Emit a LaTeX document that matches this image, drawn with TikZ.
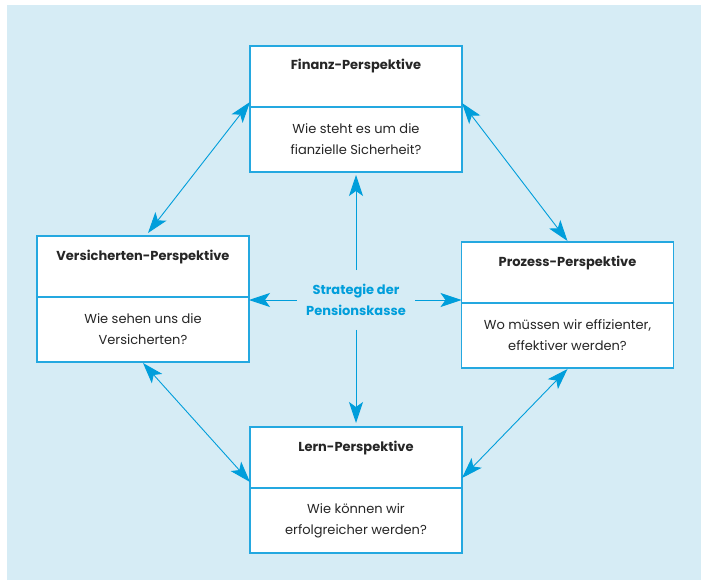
\documentclass[tikz,border=0pt]{standalone}
\usepackage{fontspec}
\setmainfont{Poppins}
\usepackage{xcolor}
\usetikzlibrary{arrows.meta, positioning}
\definecolor{bgblue}{RGB}{214,236,245}
\definecolor{lineblue}{RGB}{36,168,224}
\definecolor{arrblue}{RGB}{0,158,219}
\definecolor{txtdark}{RGB}{38,38,38}
\tikzset{
  head/.style={rectangle, draw=lineblue, fill=white, line width=1.2pt, outer sep=0pt, minimum width=212pt, inner sep=0pt, text height=24pt, text depth=37pt, font=\fontsize{13pt}{21pt}\selectfont\bfseries, text=txtdark},
  ques/.style={rectangle, draw=lineblue, fill=white, line width=1.2pt, outer sep=0pt, minimum width=212pt, minimum height=65pt, align=center, font=\fontsize{13pt}{21pt}\selectfont, text=txtdark},
  link/.style={<->, draw=arrblue, line width=0.9pt},
  ray/.style={->, draw=arrblue, line width=0.9pt},
}

\begin{document}
\begin{tikzpicture}[x=1pt, y=-1pt, >={Stealth[length=21pt, width=14pt, inset=5pt]}]
    \useasboundingbox (0,0) rectangle (701,580);
    \fill[bgblue] (7,5) rectangle (701,580);

    \node[head] (fin) at (356,76.5) {Finanz-Perspektive};
    \node[ques, below=0pt of fin] (finq) {Wie steht es um die\\fianzielle Sicherheit?};
    \node[head] (vers) at (143,266.5) {Versicherten-Perspektive};
    \node[ques, below=0pt of vers] (versq) {Wie sehen uns die\\Versicherten?};
    \node[head] (pro) at (567.5,272.5) {Prozess-Perspektive};
    \node[ques, below=0pt of pro] (proq) {Wo müssen wir effizienter,\\effektiver werden?};
    \node[head] (lern) at (356,457.5) {Lern-Perspektive};
    \node[ques, below=0pt of lern] (lernq) {Wie können wir\\erfolgreicher werden?};

    \node[align=center, inner xsep=9pt, inner ysep=14pt, text=arrblue, font=\fontsize{13pt}{21pt}\selectfont\bfseries] (str) at (356,300) {Strategie der\\Pensionskasse};

    \draw[ray] (str.north) -- ([yshift=-3pt]finq.south);
    \draw[ray] (str.south) -- ([yshift=4pt]lern.north);
    \draw[ray] (str.west) -- (str.west -| versq.east);
    \draw[ray] (str.east) -- (str.east -| proq.west);

    \draw[link] ([yshift=5pt]fin.south west) -- ([xshift=5pt, yshift=3pt]vers.north);
    \draw[link] ([yshift=4pt]fin.south east) -- ([yshift=1pt]pro.north);
    \draw[link] ([yshift=-1pt]versq.south) -- ([yshift=6pt]lern.south west);
    \draw[link] ([yshift=-1pt]proq.south) -- ([yshift=10pt]lern.south east);
\end{tikzpicture}
\end{document}
